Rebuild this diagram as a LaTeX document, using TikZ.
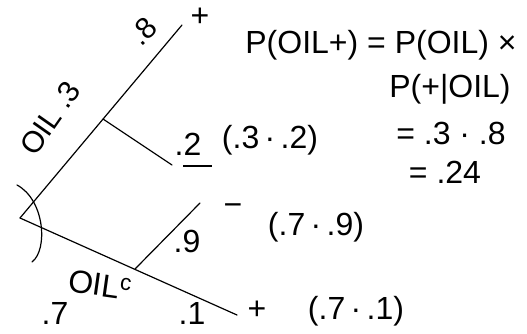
\documentclass[tikz,border=0pt]{standalone}
\usepackage{fontspec}
\setmainfont{Liberation Sans}
\begin{document}
\begin{tikzpicture}[x=1pt,y=-1pt,
  branch/.style={line width=1.2pt, line cap=round},
  big/.style={inner sep=0pt, font=\fontsize{32}{34}\selectfont},
  mid/.style={inner sep=0pt, font=\fontsize{30}{32}\selectfont},
  par/.style={inner sep=0pt, font=\fontsize{32}{34}\selectfont}]
\useasboundingbox (0,0) rectangle (527,333);
% tree points
\coordinate (r) at (20,218);
\coordinate (u) at (182,25);
\coordinate (um) at (103,119);
\coordinate (ue) at (172,165);
\coordinate (l) at (237,315);
\coordinate (lm) at (135,269);
\coordinate (le) at (200,203);
\coordinate (a1) at (17,185);
\coordinate (a2) at (32,262);
\coordinate (ul1) at (183,166);
\coordinate (ul2) at (212,166);
% branches
\draw[branch] (r) -- (u);
\draw[branch] (um) -- (ue);
\draw[branch] (r) -- (l);
\draw[branch] (lm) -- (le);
\draw[branch] (a1) .. controls (45,200) and (48,250) .. (a2);
\draw[line width=1.2pt] (ul1) -- (ul2);
% labels on tree
\node[mid, rotate=55] (oil) at (50,118) {OIL .3};
\node[mid, rotate=45] (p8) at (143,31) {.8};
\node[big] (plus1) at (200,17) {+};
\node[par] (p2) at (188,144) {.2};
\node[par] (prod1) at (270,140) {(.3\,·\,.2)};
\node[big] (minus) at (233,210) {−};
\node[par] (p9) at (187,241) {.9};
\node[par] (prod2) at (316,227) {(.7\,·\,.9)};
\node[par, rotate=-8] (oilc) at (100,285) {OIL\textsuperscript{c}};
\node[par] (p7) at (55,313) {.7};
\node[par] (p1) at (192,313) {.1};
\node[big] (plus2) at (257,310) {+};
\node[par] (prod3) at (356,311) {(.7\,·\,.1)};
% formula
\node[big] (f1) at (381,45) {P(OIL+) = P(OIL) ×};
\node[big] (f2) at (450,89) {P(+|OIL)};
\node[big] (f3) at (451,133) {= .3 · .8};
\node[big] (f4) at (445,172) {= .24};
\end{tikzpicture}
\end{document}
